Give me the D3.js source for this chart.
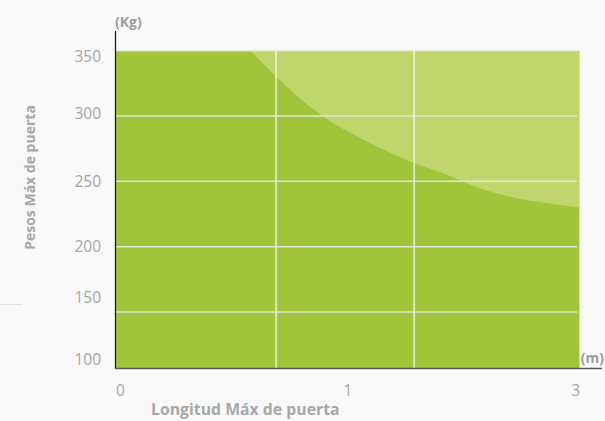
<!DOCTYPE html>
<html>
<head>
<meta charset="utf-8">
<script src="https://cdn.jsdelivr.net/npm/d3@7"></script>
<style>
  html, body { margin: 0; padding: 0; background: #f9f9f9; }
  svg { display: block; font-family: "Open Sans", sans-serif; }
</style>
</head>
<body>
<svg id="chart" width="605" height="421"></svg>
<script>
// Door length (m) and maximum door weight (kg) boundary
const lengths = [0.58, 0.69, 0.89, 1.13, 1.57, 1.88, 1.98, 3];
const maxLoads = [350, 330, 300, 282, 264, 254, 250, 230];

// Axis ticks
const xTicks = [0, 1, 3];
const yTicks = [350, 300, 250, 200, 150, 100];
const yGrid = [350, 300, 250, 200, 150];
const xGrid = [0.69, 1.57];

const xTitle = "Longitud Máx de puerta";
const yTitle = "Pesos Máx de puerta";
const yUnit = "(Kg)";
const xUnit = "(m)";

const svg = d3.select("#chart");

const plotLeft = 116, plotRight = 580, plotTop = 50.7, plotBottom = 368;

// Length axis: 0, 1 and 3 m are spread evenly along the axis
const x = d3.scaleLinear().domain([0, 1, 3]).range([plotLeft, (plotLeft + plotRight) / 2, plotRight]);
const y = d3.scaleLinear().domain([100, 350]).range([377.3, plotTop]);

// Light background of the plot (above the limit)
svg.append("rect")
  .attr("x", plotLeft).attr("y", plotTop)
  .attr("width", plotRight - plotLeft).attr("height", plotBottom - plotTop)
  .attr("fill", "#c1d56d");

// Permitted region: everything below the limit curve
const limit = lengths.map((l, i) => ({ l, w: maxLoads[i] }));
const area = d3.area()
  .x(d => x(d.l))
  .y0(plotBottom)
  .y1(d => y(d.w))
  .curve(d3.curveMonotoneX);

svg.append("rect")
  .attr("x", plotLeft).attr("y", plotTop)
  .attr("width", x(lengths[0]) - plotLeft + 0.5).attr("height", plotBottom - plotTop)
  .attr("fill", "#a1c43a");
svg.append("path")
  .datum(limit)
  .attr("d", area)
  .attr("fill", "#a1c43a");

// Grid lines
svg.append("g").selectAll("line").data(yGrid).join("line")
  .attr("x1", plotLeft).attr("x2", plotRight - 3)
  .attr("y1", d => y(d)).attr("y2", d => y(d))
  .attr("stroke", "#e3e8d3").attr("stroke-width", 1.5);

svg.append("g").selectAll("line").data(xGrid).join("line")
  .attr("x1", d => x(d)).attr("x2", d => x(d))
  .attr("y1", plotTop).attr("y2", plotBottom)
  .attr("stroke", "#eef2e0").attr("stroke-width", 1.5);

// Thin light edge on the right of the plot
svg.append("line")
  .attr("x1", plotRight - 0.5).attr("x2", plotRight - 0.5)
  .attr("y1", plotTop).attr("y2", plotBottom)
  .attr("stroke", "#d6e3a4").attr("stroke-width", 1);

// Axis lines
svg.append("line")
  .attr("x1", plotLeft - 0.5).attr("x2", plotLeft - 0.5)
  .attr("y1", 31).attr("y2", plotBottom + 1)
  .attr("stroke", "#111").attr("stroke-width", 1.2);
svg.append("line")
  .attr("x1", plotLeft - 1).attr("x2", 602)
  .attr("y1", plotBottom + 0.5).attr("y2", plotBottom + 0.5)
  .attr("stroke", "#595959").attr("stroke-width", 1.6);

// Small decorative rule at the left margin
svg.append("line")
  .attr("x1", 0).attr("x2", 22)
  .attr("y1", 304.5).attr("y2", 304.5)
  .attr("stroke", "#e2e2e2").attr("stroke-width", 1);

// Y tick labels (outermost ones pulled inside the frame)
const nudge = { 350: 6, 300: -2, 150: -14, 100: -18 };
svg.append("g").selectAll("text").data(yTicks).join("text")
  .attr("x", 101)
  .attr("y", d => y(d) + (nudge[d] || 0))
  .attr("dy", "0.35em")
  .attr("text-anchor", "end")
  .attr("font-size", 15.5)
  .attr("fill", "#a6a6a6")
  .text(d => d);

// X tick labels
svg.append("g").selectAll("text").data(xTicks).join("text")
  .attr("x", d => x(d))
  .attr("y", 390.5)
  .attr("dy", "0.35em")
  .attr("text-anchor", (d, i) => i === 0 ? "start" : i === xTicks.length - 1 ? "end" : "middle")
  .attr("font-size", 15.5)
  .attr("fill", "#a6a6a6")
  .text(d => d);

// Units
svg.append("text")
  .attr("x", 115).attr("y", 22).attr("dy", "0.35em")
  .attr("font-size", 14).attr("font-weight", "bold").attr("fill", "#9d9d9d")
  .text(yUnit);
svg.append("text")
  .attr("x", 604).attr("y", 358).attr("dy", "0.35em")
  .attr("text-anchor", "end")
  .attr("font-size", 14).attr("font-weight", "bold").attr("fill", "#9d9d9d")
  .text(xUnit);

// Axis titles
svg.append("text")
  .attr("x", 151).attr("y", 409.5).attr("dy", "0.35em")
  .attr("font-size", 15.8).attr("font-weight", "bold").attr("fill", "#a8a8a8")
  .text(xTitle);
svg.append("text")
  .attr("transform", "translate(30,177.5) rotate(-90)")
  .attr("dy", "0.35em")
  .attr("text-anchor", "middle")
  .attr("font-size", 14).attr("font-weight", "bold").attr("fill", "#a8a8a8")
  .text(yTitle);
</script>
</body>
</html>
